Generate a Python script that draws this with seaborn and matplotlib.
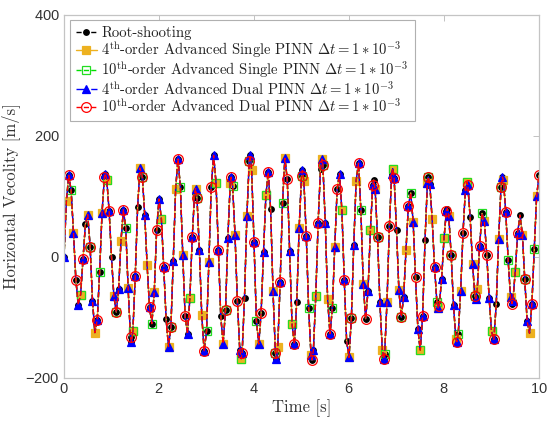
import numpy as np
import pandas as pd
import matplotlib
matplotlib.use("Agg")
import matplotlib.pyplot as plt
import seaborn as sns

# ---- data (time [s], horizontal velocity [m/s]) ----
time_s = [
    0.00, 0.05, 0.10, 0.15, 0.20, 0.25, 0.30, 0.35, 0.40, 0.45, 0.50, 0.55, 0.60, 0.65, 0.70, 0.75, 0.80, 0.85, 0.87, 0.90, 0.95,
    1.00, 1.05, 1.10, 1.15, 1.20, 1.25, 1.30, 1.35, 1.40, 1.42, 1.45, 1.50, 1.55, 1.60, 1.65, 1.70, 1.75, 1.80, 1.85, 1.90, 1.95,
    2.00, 2.05, 2.10, 2.15, 2.20, 2.25, 2.30, 2.35, 2.40, 2.45, 2.50, 2.55, 2.60, 2.65, 2.70, 2.75, 2.77, 2.80, 2.85, 2.90, 2.95,
    3.00, 3.05, 3.10, 3.15, 3.20, 3.25, 3.30, 3.35, 3.40, 3.45, 3.50, 3.52, 3.55, 3.60, 3.65, 3.70, 3.73, 3.75, 3.80, 3.85, 3.90, 3.92, 3.95,
    4.00, 4.05, 4.10, 4.15, 4.20, 4.25, 4.30, 4.35, 4.40, 4.45, 4.47, 4.50, 4.55, 4.60, 4.65, 4.70, 4.75, 4.80, 4.85, 4.90, 4.95,
    5.00, 5.02, 5.05, 5.10, 5.15, 5.20, 5.22, 5.25, 5.30, 5.35, 5.40, 5.43, 5.45, 5.50, 5.55, 5.60, 5.65, 5.70, 5.75, 5.80, 5.85, 5.90, 5.95,
    6.00, 6.05, 6.10, 6.15, 6.20, 6.25, 6.30, 6.35, 6.40, 6.45, 6.50, 6.52, 6.55, 6.60, 6.65, 6.70, 6.73, 6.75, 6.80, 6.85, 6.90, 6.92, 6.95,
    7.00, 7.05, 7.10, 7.15, 7.20, 7.25, 7.30, 7.35, 7.40, 7.45, 7.50, 7.55, 7.60, 7.65, 7.67, 7.70, 7.75, 7.80, 7.85, 7.88, 7.90, 7.95,
    8.00, 8.05, 8.07, 8.10, 8.15, 8.20, 8.25, 8.27, 8.30, 8.35, 8.40, 8.45, 8.48, 8.50, 8.55, 8.60, 8.65, 8.67, 8.70, 8.75, 8.80, 8.85, 8.90, 8.95,
    9.00, 9.05, 9.10, 9.15, 9.20, 9.23, 9.25, 9.30, 9.35, 9.40, 9.43, 9.45, 9.50, 9.55, 9.60, 9.65, 9.70, 9.75, 9.80, 9.85, 9.90, 9.95, 10.00,
]
velocity = [
    0, 92, 135, 110, 40, -38, -79, -62, -4, 54, 70, 17, -72, -125, -104, -24, 72, 132, 138, 128, 76,
    0, -65, -91, -53, 27, 78, 48, -52, -132, -140, -123, -31, 83, 147, 132, 69, -14, -83, -110, -58, 44,
    96, 63, -17, -103, -148, -116, -6, 112, 162, 115, 4, -98, -127, -68, 33, 106, 113, 97, 11, -96, -155,
    -123, -8, 116, 168, 123, 12, -98, -143, -88, 32, 123, 132, 117, 37, -73, -153, -168, -159, -67, 68, 159, 168, 144,
    25, -105, -144, -92, 8, 102, 140, 79, -56, -158, -168, -148, -42, 89, 163, 129, 10, -110, -144, -74, 48,
    134, 143, 126, 35, -85, -162, -170, -154, -65, 57, 146, 162, 152, 57, -70, -127, -84, 17, 112, 138, 77, -38, -139,
    -166, -101, 20, 126, 155, 77, -45, -102, -56, 44, 119, 127, 112, 33, -74, -153, -168, -160, -74, 52, 138, 146, 130,
    45, -55, -99, -66, 12, 85, 106, 58, -33, -119, -154, -97, 28, 122, 132, 121, 63, -16, -74, -85, -81, -36,
    31, 76, 80, 68, 4, -80, -135, -140, -127, -56, 40, 111, 124, 119, 66, -11, -64, -69, -53, 18, 72, 59, 4, -68,
    -123, -136, -77, 30, 116, 132, 127, 75, -5, -66, -77, -72, -24, 40, 69, 37, -37, -106, -126, -78, 14, 100, 135,
]
assert len(time_s) == len(velocity)

series_labels = [
    "Root-shooting",
    r"4$^{\rm th}$-order Advanced Single PINN $\Delta t = 1 \ast 10^{-3}$",
    r"10$^{\rm th}$-order Advanced Single PINN $\Delta t = 1 \ast 10^{-3}$",
    r"4$^{\rm th}$-order Advanced Dual PINN $\Delta t = 1 \ast 10^{-3}$",
    r"10$^{\rm th}$-order Advanced Dual PINN $\Delta t = 1 \ast 10^{-3}$",
]
x_ticks = [0, 2, 4, 6, 8, 10]
y_ticks = [-200, 0, 200, 400]

# ---- styling ----
sns.set_style("white")
plt.rcParams["font.family"] = ["serif"]
plt.rcParams["font.serif"] = ["cmr10", "DejaVu Serif"]
plt.rcParams["mathtext.fontset"] = "cm"
plt.rcParams["axes.unicode_minus"] = False
plt.rcParams["axes.formatter.use_mathtext"] = True

df = pd.DataFrame({"t": time_s, "v": velocity})

fig = plt.figure(figsize=(5.47, 4.26), dpi=100)
ax = fig.add_axes([0.117, 0.1127, 0.8684, 0.8521])

styles = [
    dict(color="black", linestyle="--", marker="o", markersize=4.0,
         markerfacecolor="black", markeredgecolor="black", markevery=(0, 1)),
    dict(color="#EDB120", linestyle="-", marker="s", markersize=5.5,
         markerfacecolor="#EDB120", markeredgecolor="#EDB120", markevery=(1, 3)),
    dict(color="#00E000", linestyle="--", marker="s", markersize=6,
         markerfacecolor="none", markeredgecolor="#22DD22", markevery=(3, 4)),
    dict(color="#0000FF", linestyle="-.", marker="^", markersize=5.5,
         markerfacecolor="#0000FF", markeredgecolor="#0000FF", markevery=(0, 2)),
    dict(color="#FF0000", linestyle="--", marker="o", markersize=7,
         markerfacecolor="none", markeredgecolor="#FF0000", markevery=(2, 3)),
]

for lab, st in zip(series_labels, styles):
    sns.lineplot(data=df, x="t", y="v", ax=ax, estimator=None, sort=False,
                 label=lab, linewidth=1.0, markeredgewidth=0.9, **st)

ax.set_xlim(0, 10)
ax.set_ylim(-200, 400)
ax.set_xticks(x_ticks)
ax.set_yticks(y_ticks)
ax.tick_params(direction="in", length=4, width=0.6, top=True, right=True,
               labelsize=10.5, labelfontfamily="Liberation Sans", labelcolor="#333333",
               color="#b8b8b8", pad=3)
for sp in ax.spines.values():
    sp.set_color("#c4c4c4")
    sp.set_linewidth(0.9)

ax.set_xlabel("Time [s]", fontsize=12, labelpad=2, color="#333333")
ax.set_ylabel("Horizontal Vecolity [m/s]", fontsize=12, labelpad=4, color="#333333")

leg = ax.legend(loc="upper left", bbox_to_anchor=(0.013, 0.986), borderaxespad=0,
                fontsize=10.6, frameon=True, fancybox=False, framealpha=1,
                edgecolor="#b0b0b0", handlelength=1.4, handletextpad=0.3,
                borderpad=0.4, labelspacing=-0.05)
leg.get_frame().set_linewidth(0.8)
for txt in leg.get_texts():
    txt.set_color("#222222")

fig.savefig("out.png", dpi=100)
